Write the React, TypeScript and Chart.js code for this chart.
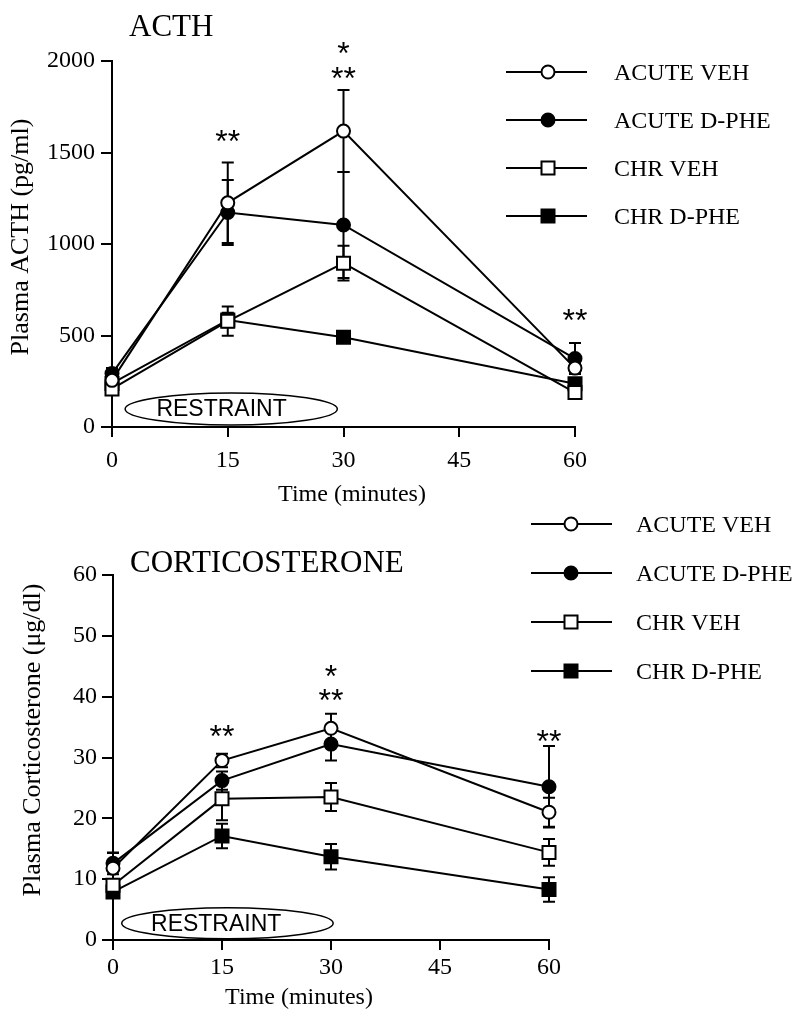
import React, { useEffect, useRef } from 'react';
import { Chart, registerables } from 'chart.js';

Chart.register(...registerables);

// ---------- data ----------
const TIME = [0, 15, 30, 60];
const TIME_TICKS = [0, 15, 30, 45, 60];
const SERIES_NAMES = ['ACUTE VEH', 'ACUTE D-PHE', 'CHR VEH', 'CHR D-PHE'];
const POINT_STYLES = ['circle', 'circle', 'rect', 'rect'];
const POINT_FILLS = ['#ffffff', '#000000', '#ffffff', '#000000'];

// ACTH (pg/ml)
const ACTH_ACUTE_VEH = [255, 1225, 1617, 322];
const ACTH_ACUTE_DPHE = [292, 1172, 1104, 374];
const ACTH_CHR_VEH = [208, 578, 895, 188];
const ACTH_CHR_DPHE = [238, 585, 490, 236];
const ACTH_SEM_ACUTE_VEH = [25, 220, 224, 25];
const ACTH_SEM_ACUTE_DPHE = [30, 178, 290, 85];
const ACTH_SEM_CHR_VEH = [25, 80, 95, 20];
const ACTH_SEM_CHR_DPHE = [20, 40, 20, 20];
const ACTH_TICKS = [0, 500, 1000, 1500, 2000];
const ACTH_STAR_T = [15, 30, 30, 60];
const ACTH_STAR_V = [1607, 2087, 1951, 630];
const ACTH_STAR_TEXT = ['**', '*', '**', '**'];

// Corticosterone (ug/dl)
const CORT_ACUTE_VEH = [11.8, 29.5, 34.8, 21.0];
const CORT_ACUTE_DPHE = [12.6, 26.2, 32.2, 25.2];
const CORT_CHR_VEH = [9.0, 23.2, 23.5, 14.4];
const CORT_CHR_DPHE = [7.9, 17.1, 13.7, 8.3];
const CORT_SEM_ACUTE_VEH = [2.5, 1.1, 2.4, 2.4];
const CORT_SEM_ACUTE_DPHE = [1.8, 1.5, 2.7, 6.7];
const CORT_SEM_CHR_VEH = [1.0, 3.5, 2.3, 2.2];
const CORT_SEM_CHR_DPHE = [1.0, 2.0, 2.1, 2.0];
const CORT_TICKS = [0, 10, 20, 30, 40, 50, 60];
const CORT_STAR_T = [15, 30, 30, 60];
const CORT_STAR_V = [34.9, 44.7, 40.8, 34.0];
const CORT_STAR_TEXT = ['**', '*', '**', '**'];

// restraint period annotation (minutes / axis units)
const RESTRAINT_LABEL = 'RESTRAINT';
const ACTH_RESTRAINT = { t0: 1.7, t1: 29.2, v0: 11, v1: 186, labelT: 14.2 };
const CORT_RESTRAINT = { t0: 1.2, t1: 30.3, v0: 0.2, v1: 5.3, labelT: 14.2 };

const SERIF = '"Liberation Serif", "Times New Roman", serif';
const SANS = '"Liberation Sans", Arial, sans-serif';

type Spec = {
  height: number;
  yWidth: number;
  xHeight: number;
  padTop: number;
  padRight: number;
  yMax: number;
  yTicks: number[];
  series: number[][];
  sems: number[][];
  title: string;
  titlePos: [number, number];
  yTitle: string;
  yTitlePos: [number, number];
  xTitle: string;
  xTitlePos: [number, number];
  legend: { x0: number; x1: number; xm: number; xt: number; y0: number; dy: number };
  restraint: { t0: number; t1: number; v0: number; v1: number; labelT: number };
  starT: number[];
  starV: number[];
  starText: string[];
  yTickPad: number;
  xTickPad: number;
};

function drawMarker(ctx: CanvasRenderingContext2D, style: string, fill: string, x: number, y: number) {
  ctx.save();
  ctx.lineWidth = 2;
  ctx.strokeStyle = '#000';
  ctx.fillStyle = fill;
  ctx.beginPath();
  if (style === 'circle') {
    ctx.arc(x, y, 6.5, 0, Math.PI * 2);
  } else {
    ctx.rect(x - 6.5, y - 6.5, 13, 13);
  }
  ctx.fill();
  ctx.stroke();
  ctx.restore();
}

function makeChart(canvas: HTMLCanvasElement, spec: Spec) {
  const datasets = spec.series.map((vals, i) => ({
    label: SERIES_NAMES[i],
    data: TIME.map((t, j) => ({ x: t, y: vals[j] })),
    sem: spec.sems[i],
    borderColor: '#000',
    borderWidth: 2,
    pointStyle: POINT_STYLES[i],
    pointRadius: POINT_STYLES[i] === 'circle' ? 6.5 : 9.2,
    pointBorderWidth: 2,
    pointBorderColor: '#000',
    pointBackgroundColor: POINT_FILLS[i],
    tension: 0,
    fill: false,
    clip: false as any,
  }));

  const extras = {
    id: 'extras',
    beforeDatasetsDraw(chart: any) {
      const ctx = chart.ctx as CanvasRenderingContext2D;
      const xs = chart.scales.x;
      const ys = chart.scales.y;
      ctx.save();
      ctx.strokeStyle = '#000';
      ctx.lineWidth = 2;
      chart.data.datasets.forEach((ds: any) => {
        ds.data.forEach((p: any, j: number) => {
          const s = ds.sem[j];
          if (!s) return;
          const x = xs.getPixelForValue(p.x);
          const yt = ys.getPixelForValue(p.y + s);
          const yb = ys.getPixelForValue(p.y - s);
          ctx.beginPath();
          ctx.moveTo(x, yt);
          ctx.lineTo(x, yb);
          ctx.moveTo(x - 6, yt);
          ctx.lineTo(x + 6, yt);
          ctx.moveTo(x - 6, yb);
          ctx.lineTo(x + 6, yb);
          ctx.stroke();
        });
      });
      ctx.restore();
    },
    afterDraw(chart: any) {
      const ctx = chart.ctx as CanvasRenderingContext2D;
      const xs = chart.scales.x;
      const ys = chart.scales.y;
      ctx.save();
      ctx.fillStyle = '#000';
      ctx.strokeStyle = '#000';

      // title
      ctx.font = `31px ${SERIF}`;
      ctx.textAlign = 'left';
      ctx.textBaseline = 'alphabetic';
      ctx.fillText(spec.title, spec.titlePos[0], spec.titlePos[1]);

      // x title
      ctx.font = `24px ${SERIF}`;
      ctx.textAlign = 'center';
      ctx.fillText(spec.xTitle, spec.xTitlePos[0], spec.xTitlePos[1]);

      // y title
      ctx.save();
      ctx.translate(spec.yTitlePos[0], spec.yTitlePos[1]);
      ctx.rotate(-Math.PI / 2);
      ctx.font = `26px ${SERIF}`;
      ctx.textAlign = 'center';
      ctx.fillText(spec.yTitle, 0, 0);
      ctx.restore();

      // restraint ellipse
      const r = spec.restraint;
      const ex0 = xs.getPixelForValue(r.t0);
      const ex1 = xs.getPixelForValue(r.t1);
      const ey0 = ys.getPixelForValue(r.v0);
      const ey1 = ys.getPixelForValue(r.v1);
      ctx.lineWidth = 1.5;
      ctx.beginPath();
      ctx.ellipse((ex0 + ex1) / 2, (ey0 + ey1) / 2, Math.abs(ex1 - ex0) / 2, Math.abs(ey0 - ey1) / 2, 0, 0, Math.PI * 2);
      ctx.stroke();
      ctx.font = `23px ${SANS}`;
      ctx.textAlign = 'center';
      ctx.textBaseline = 'middle';
      ctx.fillText(RESTRAINT_LABEL, xs.getPixelForValue(r.labelT), (ey0 + ey1) / 2 + 1);

      // significance stars
      ctx.font = `32px ${SANS}`;
      ctx.textAlign = 'center';
      ctx.textBaseline = 'alphabetic';
      spec.starT.forEach((t, i) => {
        ctx.fillText(spec.starText[i], xs.getPixelForValue(t), ys.getPixelForValue(spec.starV[i]) + 19);
      });

      // legend
      const L = spec.legend;
      ctx.font = `24px ${SERIF}`;
      ctx.textAlign = 'left';
      ctx.textBaseline = 'alphabetic';
      SERIES_NAMES.forEach((name, i) => {
        const y = L.y0 + i * L.dy;
        ctx.lineWidth = 2;
        ctx.beginPath();
        ctx.moveTo(L.x0, y);
        ctx.lineTo(L.x1, y);
        ctx.stroke();
        drawMarker(ctx, POINT_STYLES[i], POINT_FILLS[i], L.xm, y);
        ctx.fillStyle = '#000';
        ctx.fillText(name, L.xt, y + 8);
      });
      ctx.restore();
    },
  };

  return new Chart(canvas, {
    type: 'line',
    data: { datasets: datasets as any },
    options: {
      responsive: false,
      animation: false,
      events: [],
      layout: {
        autoPadding: false,
        padding: { top: spec.padTop, right: spec.padRight, left: 0, bottom: 0 },
      } as any,
      plugins: { legend: { display: false }, tooltip: { enabled: false }, title: { display: false } },
      scales: {
        x: {
          type: 'linear',
          min: 0,
          max: 60,
          afterBuildTicks: (s: any) => {
            s.ticks = TIME_TICKS.map((v) => ({ value: v }));
          },
          afterFit: (s: any) => {
            s.height = spec.xHeight;
            s.paddingLeft = 0;
            s.paddingRight = 0;
          },
          grid: { display: true, drawOnChartArea: false, drawTicks: true, tickLength: 10, color: '#000', lineWidth: 2 },
          border: { display: true, color: '#000', width: 2 },
          ticks: {
            color: '#000',
            font: { family: SERIF, size: 24 },
            padding: spec.xTickPad,
            maxRotation: 0,
            callback: (v: any) => String(v),
          },
        },
        y: {
          type: 'linear',
          min: 0,
          max: spec.yMax,
          afterBuildTicks: (s: any) => {
            s.ticks = spec.yTicks.map((v) => ({ value: v }));
          },
          afterFit: (s: any) => {
            s.width = spec.yWidth;
          },
          grid: { display: true, drawOnChartArea: false, drawTicks: true, tickLength: 11, color: '#000', lineWidth: 2 },
          border: { display: true, color: '#000', width: 2 },
          ticks: {
            color: '#000',
            font: { family: SERIF, size: 24 },
            padding: spec.yTickPad,
            callback: (v: any) => String(v),
          },
        },
      },
    },
    plugins: [extras as any],
  });
}

const ACTH_SPEC: Spec = {
  height: 520,
  yWidth: 112,
  xHeight: 93,
  padTop: 61,
  padRight: 225,
  yMax: 2000,
  yTicks: ACTH_TICKS,
  series: [ACTH_ACUTE_VEH, ACTH_ACUTE_DPHE, ACTH_CHR_VEH, ACTH_CHR_DPHE],
  sems: [ACTH_SEM_ACUTE_VEH, ACTH_SEM_ACUTE_DPHE, ACTH_SEM_CHR_VEH, ACTH_SEM_CHR_DPHE],
  title: 'ACTH',
  titlePos: [129, 36],
  yTitle: 'Plasma ACTH (pg/ml)',
  yTitlePos: [28, 237],
  xTitle: 'Time (minutes)',
  xTitlePos: [352, 501],
  legend: { x0: 506, x1: 587, xm: 548, xt: 614, y0: 72, dy: 48 },
  restraint: ACTH_RESTRAINT,
  starT: ACTH_STAR_T,
  starV: ACTH_STAR_V,
  starText: ACTH_STAR_TEXT,
  yTickPad: 6,
  xTickPad: 9,
};

const CORT_SPEC: Spec = {
  height: 516,
  yWidth: 113,
  xHeight: 76,
  padTop: 75,
  padRight: 251,
  yMax: 60,
  yTicks: CORT_TICKS,
  series: [CORT_ACUTE_VEH, CORT_ACUTE_DPHE, CORT_CHR_VEH, CORT_CHR_DPHE],
  sems: [CORT_SEM_ACUTE_VEH, CORT_SEM_ACUTE_DPHE, CORT_SEM_CHR_VEH, CORT_SEM_CHR_DPHE],
  title: 'CORTICOSTERONE',
  titlePos: [130, 72],
  yTitle: 'Plasma Corticosterone (μg/dl)',
  yTitlePos: [40, 240],
  xTitle: 'Time (minutes)',
  xTitlePos: [299, 504],
  legend: { x0: 531, x1: 612, xm: 571, xt: 636, y0: 24, dy: 49 },
  restraint: CORT_RESTRAINT,
  starT: CORT_STAR_T,
  starV: CORT_STAR_V,
  starText: CORT_STAR_TEXT,
  yTickPad: 5,
  xTickPad: 3,
};

function ChartCanvas({ spec, top }: { spec: Spec; top: number }) {
  const ref = useRef<HTMLCanvasElement | null>(null);
  useEffect(() => {
    if (!ref.current) return;
    const chart = makeChart(ref.current, spec);
    return () => chart.destroy();
  }, [spec]);
  return (
    <canvas
      ref={ref}
      width={800}
      height={spec.height}
      style={{ position: 'absolute', left: 0, top, width: 800, height: spec.height, display: 'block' }}
    />
  );
}

export default function App() {
  return (
    <div style={{ position: 'absolute', left: 0, top: 0, width: 800, height: 1016, background: '#ffffff' }}>
      <ChartCanvas spec={ACTH_SPEC} top={0} />
      <ChartCanvas spec={CORT_SPEC} top={500} />
    </div>
  );
}
